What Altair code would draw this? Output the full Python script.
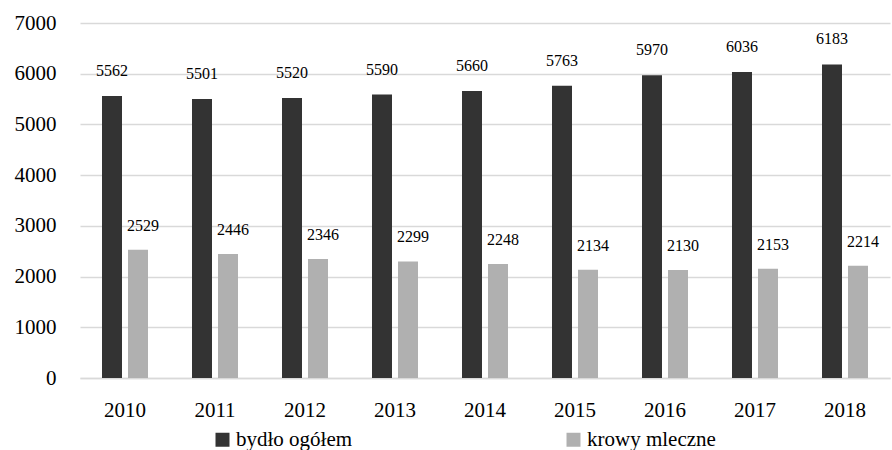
import altair as alt
import pandas as pd

years = ["2010", "2011", "2012", "2013", "2014", "2015", "2016", "2017", "2018"]
bydlo = [5562, 5501, 5520, 5590, 5660, 5763, 5970, 6036, 6183]
krowy = [2529, 2446, 2346, 2299, 2248, 2134, 2130, 2153, 2214]
series = ["bydło ogółem", "krowy mleczne"]
colors = ["#333333", "#b0b0b0"]

rows = []
for i, y in enumerate(years):
    rows.append({"rok": y, "seria": series[0], "wartosc": bydlo[i]})
    rows.append({"rok": y, "seria": series[1], "wartosc": krowy[i]})
df = pd.DataFrame(rows)

FONT = "Liberation Serif"

x = alt.X("rok:N", title=None,
          scale=alt.Scale(paddingInner=0.489, paddingOuter=0.2445),
          axis=alt.Axis(labelAngle=0, labelFontSize=21, labelFont=FONT, labelColor="#000000",
                        ticks=False, domain=True, domainColor="#d9d9d9", domainWidth=1.5,
                        labelPadding=21))
xoff = alt.XOffset("seria:N", scale=alt.Scale(paddingInner=0.2308, paddingOuter=0))
y = alt.Y("wartosc:Q", title=None,
          scale=alt.Scale(domain=[0, 7000], nice=False),
          axis=alt.Axis(values=[0, 1000, 2000, 3000, 4000, 5000, 6000, 7000], format="d",
                        labelFontSize=21, labelFont=FONT, labelColor="#000000",
                        ticks=False, domain=False, gridColor="#d9d9d9", gridWidth=1.5,
                        labelPadding=24))

bars = alt.Chart(df).mark_bar().encode(
    x=x, xOffset=xoff, y=y,
    color=alt.Color("seria:N", title=None,
                    scale=alt.Scale(domain=series, range=colors),
                    legend=alt.Legend(orient="none", legendX=130, legendY=404,
                                      direction="horizontal", symbolType="square",
                                      symbolSize=196, symbolStrokeWidth=0,
                                      labelFontSize=21, labelFont=FONT, labelColor="#000000",
                                      labelOffset=3, columnPadding=210, padding=2)),
)

lab1 = alt.Chart(df[df.seria == series[0]]).mark_text(
    font=FONT, fontSize=16, baseline="alphabetic", dy=-20, color="#000000"
).encode(x=x, xOffset=xoff, y=y, text="wartosc:Q")

lab2 = alt.Chart(df[df.seria == series[1]]).mark_text(
    font=FONT, fontSize=16, baseline="alphabetic", dy=-19, dx=5, color="#000000"
).encode(x=x, xOffset=xoff, y=y, text="wartosc:Q")

chart = alt.layer(bars, lab1, lab2).properties(
    width=810, height=355,
    autosize=alt.AutoSizeParams(type="none"),
    padding={"left": 80, "top": 23, "right": 2, "bottom": 72},
).configure(background="#ffffff", font=FONT).configure_view(
    stroke=None, strokeWidth=0
).configure_legend(labelFont=FONT)

chart.save("out.html", embed_options={"renderer": "svg", "actions": False})
